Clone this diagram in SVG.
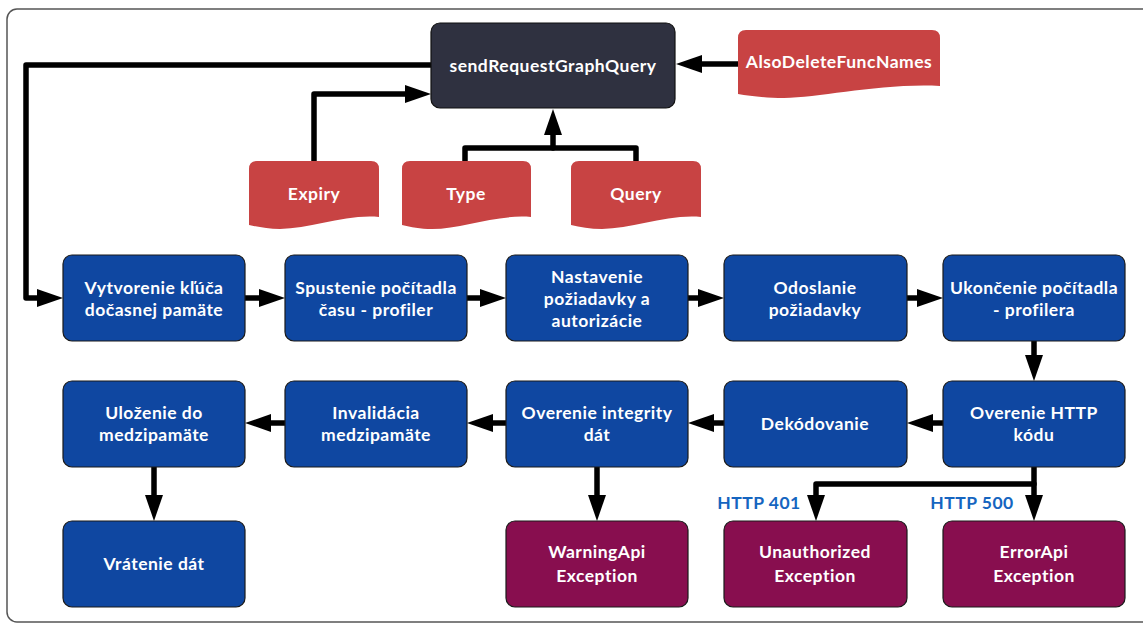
<svg xmlns="http://www.w3.org/2000/svg" width="1143" height="623" viewBox="0 0 1143 623">
  <style>
    .step { fill: #0F47A1; stroke: #1a1a1a; stroke-width: 1.2; }
    .exc { fill: #880E4F; stroke: #1a1a1a; stroke-width: 1.2; }
    .core { fill: #2F3140; stroke: #111; stroke-width: 1.2; }
    .param { fill: #C84343; }
    .lbl { font-family: Lato, "Open Sans", "Liberation Sans", sans-serif; font-weight: bold; font-size: 17.5px; letter-spacing: 0.5px; fill: #ffffff; text-anchor: middle; }
    .code { font-family: Lato, "Open Sans", "Liberation Sans", sans-serif; font-weight: bold; font-size: 17.5px; letter-spacing: 0.5px; fill: #1565C0; text-anchor: middle; }
    .wire { fill: none; stroke: #000; stroke-width: 5.5; stroke-linecap: round; stroke-linejoin: round; }
  </style>
  <defs>
    <marker id="head" viewBox="0 0 26 18" markerWidth="26" markerHeight="18" refX="1" refY="9" markerUnits="userSpaceOnUse" orient="auto">
      <path d="M0,0 L26,9 L0,18 Z" fill="#000"/>
    </marker>
  </defs>

  <!-- page frame -->
  <rect x="7" y="9" width="1160" height="613" rx="10" fill="#fff" stroke="#555" stroke-width="1.5"/>

  <!-- connectors -->
  <g id="connectors">
    <path class="wire" d="M431,65 H26 V298 H38" marker-end="url(#head)"/>
    <path class="wire" d="M314,161 V94 H406" marker-end="url(#head)"/>
    <path class="wire" d="M465,161 V148 H636 V161"/>
    <path class="wire" d="M553,148 V134" marker-end="url(#head)"/>
    <path class="wire" d="M738,64 H701" marker-end="url(#head)"/>

    <path class="wire" d="M245,298 H260" marker-end="url(#head)"/>
    <path class="wire" d="M467,298 H481" marker-end="url(#head)"/>
    <path class="wire" d="M688,298 H699" marker-end="url(#head)"/>
    <path class="wire" d="M907,298 H918" marker-end="url(#head)"/>
    <path class="wire" d="M1034,341 V356" marker-end="url(#head)"/>

    <path class="wire" d="M943,423 H932" marker-end="url(#head)"/>
    <path class="wire" d="M724,423 H713" marker-end="url(#head)"/>
    <path class="wire" d="M507,423 H492" marker-end="url(#head)"/>
    <path class="wire" d="M285,423 H270" marker-end="url(#head)"/>

    <path class="wire" d="M154,467 V496" marker-end="url(#head)"/>
    <path class="wire" d="M597,467 V496" marker-end="url(#head)"/>
    <path class="wire" d="M1034,467 V496" marker-end="url(#head)"/>
    <path class="wire" d="M1034,484 H816 V496" marker-end="url(#head)"/>
  </g>

  <!-- response code labels -->
  <g id="codes">
    <text class="code" x="759" y="509">HTTP 401</text>
    <text class="code" x="972" y="509">HTTP 500</text>
  </g>

  <!-- main function -->
  <g id="sendRequestGraphQuery">
    <rect class="core" x="431" y="23" width="244" height="85" rx="9"/>
    <text class="lbl" x="553" y="72">sendRequestGraphQuery</text>
  </g>

  <!-- parameters -->
  <g id="p-also">
    <path class="param" d="M738,38 Q738,30 746,30 H932 Q940,30 940,38 V86 C880,83 820,98 784,98 C766,98 750,96 738,94 Z"/>
    <text class="lbl" x="839" y="68">AlsoDeleteFuncNames</text>
  </g>
  <g id="p-expiry">
    <path class="param" d="M249,169 Q249,161 257,161 H371 Q379,161 379,169 V217 C345,214 310,229 280,229 C268,229 258,227 249,225 Z"/>
    <text class="lbl" x="314" y="200">Expiry</text>
  </g>
  <g id="p-type">
    <path class="param" d="M402,169 Q402,161 410,161 H523 Q531,161 531,169 V217 C497,214 462,229 432,229 C420,229 411,227 402,225 Z"/>
    <text class="lbl" x="466" y="200">Type</text>
  </g>
  <g id="p-query">
    <path class="param" d="M571,169 Q571,161 579,161 H693 Q701,161 701,169 V217 C667,214 632,229 602,229 C590,229 580,227 571,225 Z"/>
    <text class="lbl" x="636" y="200">Query</text>
  </g>

  <!-- row 1 -->
  <g id="n-vytvorenie">
    <rect class="step" x="63" y="255" width="182" height="86" rx="9"/>
    <text class="lbl" x="154" y="294">Vytvorenie kľúča</text>
    <text class="lbl" x="154" y="316">dočasnej pamäte</text>
  </g>
  <g id="n-spustenie">
    <rect class="step" x="285" y="255" width="182" height="86" rx="9"/>
    <text class="lbl" x="376" y="294">Spustenie počítadla</text>
    <text class="lbl" x="376" y="316">času - profiler</text>
  </g>
  <g id="n-nastavenie">
    <rect class="step" x="506" y="255" width="182" height="86" rx="9"/>
    <text class="lbl" x="597" y="283">Nastavenie</text>
    <text class="lbl" x="597" y="305">požiadavky a</text>
    <text class="lbl" x="597" y="327">autorizácie</text>
  </g>
  <g id="n-odoslanie">
    <rect class="step" x="724" y="255" width="183" height="86" rx="9"/>
    <text class="lbl" x="815" y="294">Odoslanie</text>
    <text class="lbl" x="815" y="316">požiadavky</text>
  </g>
  <g id="n-ukoncenie">
    <rect class="step" x="943" y="255" width="182" height="86" rx="9"/>
    <text class="lbl" x="1034" y="294">Ukončenie počítadla</text>
    <text class="lbl" x="1034" y="316">- profilera</text>
  </g>

  <!-- row 2 -->
  <g id="n-ulozenie">
    <rect class="step" x="63" y="381" width="182" height="86" rx="9"/>
    <text class="lbl" x="154" y="419">Uloženie do</text>
    <text class="lbl" x="154" y="441">medzipamäte</text>
  </g>
  <g id="n-invalidacia">
    <rect class="step" x="285" y="381" width="182" height="86" rx="9"/>
    <text class="lbl" x="376" y="419">Invalidácia</text>
    <text class="lbl" x="376" y="441">medzipamäte</text>
  </g>
  <g id="n-integrita">
    <rect class="step" x="506" y="381" width="182" height="86" rx="9"/>
    <text class="lbl" x="597" y="419">Overenie integrity</text>
    <text class="lbl" x="597" y="441">dát</text>
  </g>
  <g id="n-dekodovanie">
    <rect class="step" x="724" y="381" width="183" height="86" rx="9"/>
    <text class="lbl" x="815" y="430">Dekódovanie</text>
  </g>
  <g id="n-http">
    <rect class="step" x="943" y="381" width="182" height="86" rx="9"/>
    <text class="lbl" x="1034" y="419">Overenie HTTP</text>
    <text class="lbl" x="1034" y="441">kódu</text>
  </g>

  <!-- row 3 -->
  <g id="n-vratenie">
    <rect class="step" x="63" y="521" width="182" height="86" rx="9"/>
    <text class="lbl" x="154" y="570">Vrátenie dát</text>
  </g>
  <g id="n-warning">
    <rect class="exc" x="506" y="521" width="182" height="86" rx="9"/>
    <text class="lbl" x="597" y="558">WarningApi</text>
    <text class="lbl" x="597" y="582">Exception</text>
  </g>
  <g id="n-unauthorized">
    <rect class="exc" x="724" y="521" width="183" height="86" rx="9"/>
    <text class="lbl" x="815" y="558">Unauthorized</text>
    <text class="lbl" x="815" y="582">Exception</text>
  </g>
  <g id="n-error">
    <rect class="exc" x="943" y="521" width="182" height="86" rx="9"/>
    <text class="lbl" x="1034" y="558">ErrorApi</text>
    <text class="lbl" x="1034" y="582">Exception</text>
  </g>
</svg>
